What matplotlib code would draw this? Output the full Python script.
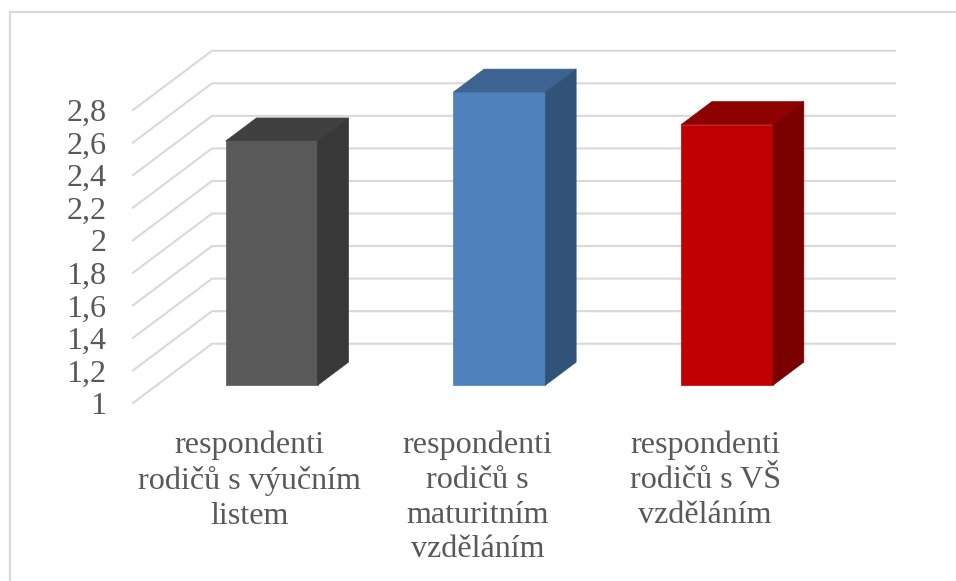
import matplotlib
matplotlib.use("Agg")
import matplotlib.pyplot as plt
from matplotlib.patches import Polygon, Rectangle
from matplotlib.transforms import ScaledTranslation

categories = [
    "respondenti\nrodičů s výučním\nlistem",
    "respondenti\nrodičů s\nmaturitním\nvzděláním",
    "respondenti\nrodičů s VŠ\nvzděláním",
]
values = [2.5, 2.8, 2.6]
y_ticks = [1, 1.2, 1.4, 1.6, 1.8, 2, 2.2, 2.4, 2.6, 2.8]
y_tick_labels = ["1", "1,2", "1,4", "1,6", "1,8", "2", "2,2", "2,4", "2,6", "2,8"]
front_colors = ["#595959", "#4f81bd", "#c00000"]
top_colors = ["#404040", "#3c6391", "#8f0000"]
side_colors = ["#383838", "#325378", "#7a0000"]

W, H = 956, 581
GRID = "#d9d9d9"
TEXT = "#595959"
FONT_SIZE = 23.1
BAR_WIDTH = 0.404
BAR_SHIFT = 0.005
# Oblique depth vector of the 3-D box, in data units
DEPTH_X, DEPTH_Y = 0.347, 0.364
BAR_NEAR, BAR_FAR = 0.30, 0.69

plt.rcParams["font.family"] = ["Liberation Serif", "DejaVu Serif"]

fig = plt.figure(figsize=(W / 100, H / 100), dpi=100, facecolor="white")

# Chart frame: the right and bottom edges fall outside the canvas
frame_left, frame_top = 9.5 / W, 1 - 12.5 / H
fig.add_artist(Rectangle((frame_left, -0.1), 1.1, frame_top + 0.1,
                         transform=fig.transFigure, fill=False,
                         edgecolor=GRID, linewidth=1.6))

ax = fig.add_axes([133 / W, 1 - 403 / H, 683 / W, 293 / H])
ax.set_xlim(-0.5, 2.5)
ax.set_ylim(1, 2.8)
ax.patch.set_visible(False)
for spine in ax.spines.values():
    spine.set_visible(False)


def project(x, y, depth):
    """Oblique projection of a point at a given depth (0 = front, 1 = back wall)."""
    return x + depth * DEPTH_X, y + depth * DEPTH_Y


# Gridlines run along the floor side wall, then across the back wall
for tick in y_ticks:
    x0, y0 = project(-0.5, tick, 0)
    x1, y1 = project(-0.5, tick, 1)
    x2, y2 = project(2.5, tick, 1)
    ax.plot([x0, x1, x2], [y0, y1, y2], color=GRID, linewidth=1.5,
            clip_on=False, zorder=1, solid_joinstyle="miter")

# Each bar is a box made of front, top and side faces
for i, value in enumerate(values):
    left, right = i + BAR_SHIFT - BAR_WIDTH / 2, i + BAR_SHIFT + BAR_WIDTH / 2
    faces = [
        (front_colors[i], [project(left, 1, BAR_NEAR), project(right, 1, BAR_NEAR),
                           project(right, value, BAR_NEAR), project(left, value, BAR_NEAR)]),
        (top_colors[i], [project(left, value, BAR_NEAR), project(right, value, BAR_NEAR),
                         project(right, value, BAR_FAR), project(left, value, BAR_FAR)]),
        (side_colors[i], [project(right, 1, BAR_NEAR), project(right, 1, BAR_FAR),
                          project(right, value, BAR_FAR), project(right, value, BAR_NEAR)]),
    ]
    for color, vertices in faces:
        ax.add_patch(Polygon(vertices, closed=True, facecolor=color, edgecolor=color,
                             linewidth=0.5, clip_on=False, zorder=3))

ax.set_yticks(y_ticks, y_tick_labels, fontsize=FONT_SIZE, color=TEXT)
ax.tick_params(axis="y", length=0, pad=19)
ax.set_xticks(range(len(categories)), categories, fontsize=FONT_SIZE, color=TEXT, linespacing=1.26)
ax.tick_params(axis="x", length=0, pad=20)

label_shift = ScaledTranslation(3 / 100, 0, fig.dpi_scale_trans)
for label in ax.get_xticklabels():
    label.set_transform(label.get_transform() + label_shift)

fig.savefig("out.png", dpi=100, facecolor="white")
